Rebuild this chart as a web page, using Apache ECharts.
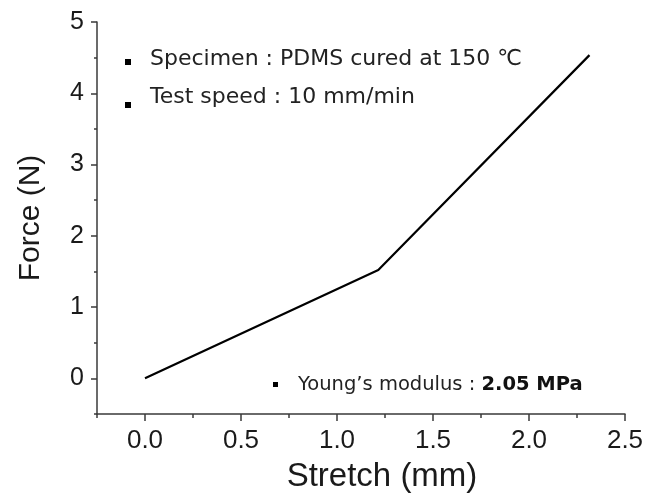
<!DOCTYPE html>
<html>
<head>
<meta charset="utf-8">
<script src="https://cdn.jsdelivr.net/npm/echarts@6/dist/echarts.min.js"></script>
<style>
html,body{margin:0;padding:0;background:#fff;}
#chart{width:654px;height:504px;}
</style>
</head>
<body>
<div id="chart"></div>
<script>
const stretch = [0, 1.215, 2.315];
const force = [0, 1.52, 4.535];
const xMajorTicks = [0, 0.5, 1.0, 1.5, 2.0, 2.5];
const xMinorTicks = [-0.25, 0.25, 0.75, 1.25, 1.75, 2.25];
const yMajorTicks = [0, 1, 2, 3, 4, 5];
const yMinorTicks = [-0.5, 0.5, 1.5, 2.5, 3.5, 4.5];
const notes = ['Specimen : PDMS cured at 150 ℃', 'Test speed : 10 mm/min'];
const modulusLabel = 'Young\u2019s modulus : ';
const modulusValue = '2.05 MPa';

const chart = echarts.init(document.getElementById('chart'));
const axisColor = '#3a3a3a';
const tickFont = {fontFamily: 'Liberation Sans, Arial, sans-serif', fontSize: 26, color: '#1a1a1a'};
const noteFont = '"DejaVu Sans", "Noto Sans CJK KR", sans-serif';

const option = {
  animation: false,
  backgroundColor: '#fff',
  grid: {left: 97, right: 29, top: 22, bottom: 90, containLabel: false},
  xAxis: [{
    type: 'value', min: -0.25, max: 2.5, position: 'bottom',
    axisLine: {show: true, onZero: false, lineStyle: {color: axisColor, width: 1.5}},
    axisTick: {show: true, length: 7, customValues: xMajorTicks, lineStyle: {color: axisColor, width: 1.5}},
    axisLabel: Object.assign({customValues: xMajorTicks, margin: 14, formatter: v => v.toFixed(1)}, tickFont),
    splitLine: {show: false}
  }, {
    type: 'value', min: -0.25, max: 2.5, position: 'bottom',
    axisLine: {show: false, onZero: false},
    axisTick: {show: true, length: 4, customValues: xMinorTicks, lineStyle: {color: axisColor, width: 1.5}},
    axisLabel: {show: false},
    splitLine: {show: false}
  }],
  yAxis: [{
    type: 'value', min: -0.5, max: 5, position: 'left',
    name: 'Force (N)', nameLocation: 'middle', nameGap: 51, nameRotate: 90,
    nameTextStyle: {fontFamily: 'Liberation Sans, Arial, sans-serif', fontSize: 30, color: '#1a1a1a'},
    axisLine: {show: true, onZero: false, lineStyle: {color: axisColor, width: 1.5}},
    axisTick: {show: true, length: 6, customValues: yMajorTicks, lineStyle: {color: axisColor, width: 1.5}},
    axisLabel: Object.assign({customValues: yMajorTicks, margin: 13, formatter: v => String(v)}, tickFont, {fontSize: 25}),
    splitLine: {show: false}
  }, {
    type: 'value', min: -0.5, max: 5, position: 'left',
    axisLine: {show: false, onZero: false},
    axisTick: {show: true, length: 3, customValues: yMinorTicks, lineStyle: {color: axisColor, width: 1.5}},
    axisLabel: {show: false},
    splitLine: {show: false}
  }],
  series: [{
    type: 'line',
    xAxisIndex: 0, yAxisIndex: 0,
    data: stretch.map((x, i) => [x, force[i]]),
    showSymbol: false,
    lineStyle: {color: '#000', width: 2.2},
    z: 5
  }],
  graphic: [
    {type: 'text', x: 382, y: 477, style: {text: 'Stretch (mm)', align: 'center', verticalAlign: 'middle', font: '33px "Liberation Sans", Arial, sans-serif', fill: '#1a1a1a'}},
    {type: 'rect', shape: {x: 125, y: 59, width: 6, height: 6}, style: {fill: '#000'}},
    {type: 'text', x: 150, y: 59, style: {text: notes[0], align: 'left', verticalAlign: 'middle', font: '22px ' + noteFont, fill: '#222'}},
    {type: 'rect', shape: {x: 125, y: 102, width: 6, height: 6}, style: {fill: '#000'}},
    {type: 'text', x: 150, y: 97, style: {text: notes[1], align: 'left', verticalAlign: 'middle', font: '22px ' + noteFont, fill: '#222'}},
    {type: 'rect', shape: {x: 273, y: 382, width: 5, height: 5}, style: {fill: '#000'}},
    {type: 'text', x: 298, y: 385, style: {
      text: '{a|' + modulusLabel + '}{b|' + modulusValue + '}', align: 'left', verticalAlign: 'middle',
      rich: {
        a: {fontFamily: noteFont, fontSize: 19.5, fill: '#222'},
        b: {fontFamily: noteFont, fontSize: 19.5, fontWeight: 'bold', fill: '#111'}
      }
    }}
  ]
};
chart.setOption(option);
</script>
</body>
</html>
